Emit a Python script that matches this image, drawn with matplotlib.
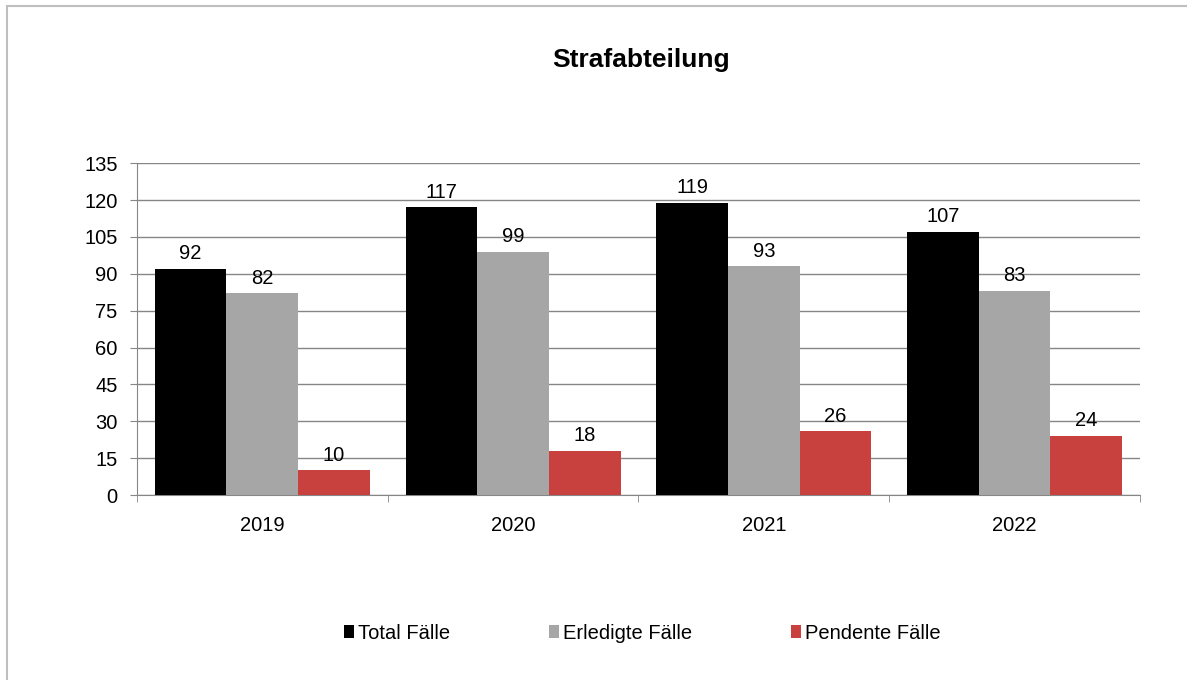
import matplotlib
matplotlib.use("Agg")
import matplotlib.pyplot as plt
from matplotlib.patches import Rectangle
import numpy as np

plt.rcParams['font.family'] = ['Liberation Sans', 'DejaVu Sans']

years = ['2019', '2020', '2021', '2022']
total = [92, 117, 119, 107]
erledigt = [82, 99, 93, 83]
pendent = [10, 18, 26, 24]
series_names = ['Total Fälle', 'Erledigte Fälle', 'Pendente Fälle']
colors = ['#000000', '#A6A6A6', '#C9413E']

fig = plt.figure(figsize=(11.87, 6.80), dpi=100)
ax = fig.add_axes([0.1154, 0.272, 0.845, 0.488])

# outer chart frame (cut at right and bottom like the reference)
fig.add_artist(Rectangle((7 / 1187, -0.05), 1.1, 1.05 - 6 / 680,
                         transform=fig.transFigure, fill=False,
                         edgecolor='#BFBFBF', linewidth=1.5))

x = np.arange(len(years))
w = 0.286
for i, (vals, name, c) in enumerate(zip([total, erledigt, pendent], series_names, colors)):
    bars = ax.bar(x + (i - 1) * w, vals, w, color=c, label=name, zorder=3)
    ax.bar_label(bars, padding=4, fontsize=14.5, color='black')

ax.set_xlim(-0.5, len(years) - 0.5)
ax.set_ylim(0, 135)
ax.set_yticks(np.arange(0, 136, 15))
ax.set_xticks(x)
ax.set_xticklabels(years)
ax.set_xticks(np.arange(-0.5, len(years)), minor=True)
ax.tick_params(axis='x', which='major', length=0, pad=15, labelsize=14.5)
ax.tick_params(axis='x', which='minor', length=5, color='#868686')
ax.tick_params(axis='y', length=5, color='#868686', labelsize=14.5, pad=9)
ax.grid(axis='y', color='#868686', linewidth=1, zorder=0)
for s in ['top', 'right']:
    ax.spines[s].set_visible(False)
for s in ['left', 'bottom']:
    ax.spines[s].set_color('#868686')

fig.text(0.54, 0.912, 'Strafabteilung', ha='center', va='center',
         fontsize=19, fontweight='bold')

fig.legend(loc='center', bbox_to_anchor=(0.541, 0.069), ncol=3, frameon=False,
           fontsize=14.5, handlelength=0.5, handleheight=0.6, handletextpad=0.2,
           columnspacing=4.9)

fig.savefig('out.png', dpi=100)
